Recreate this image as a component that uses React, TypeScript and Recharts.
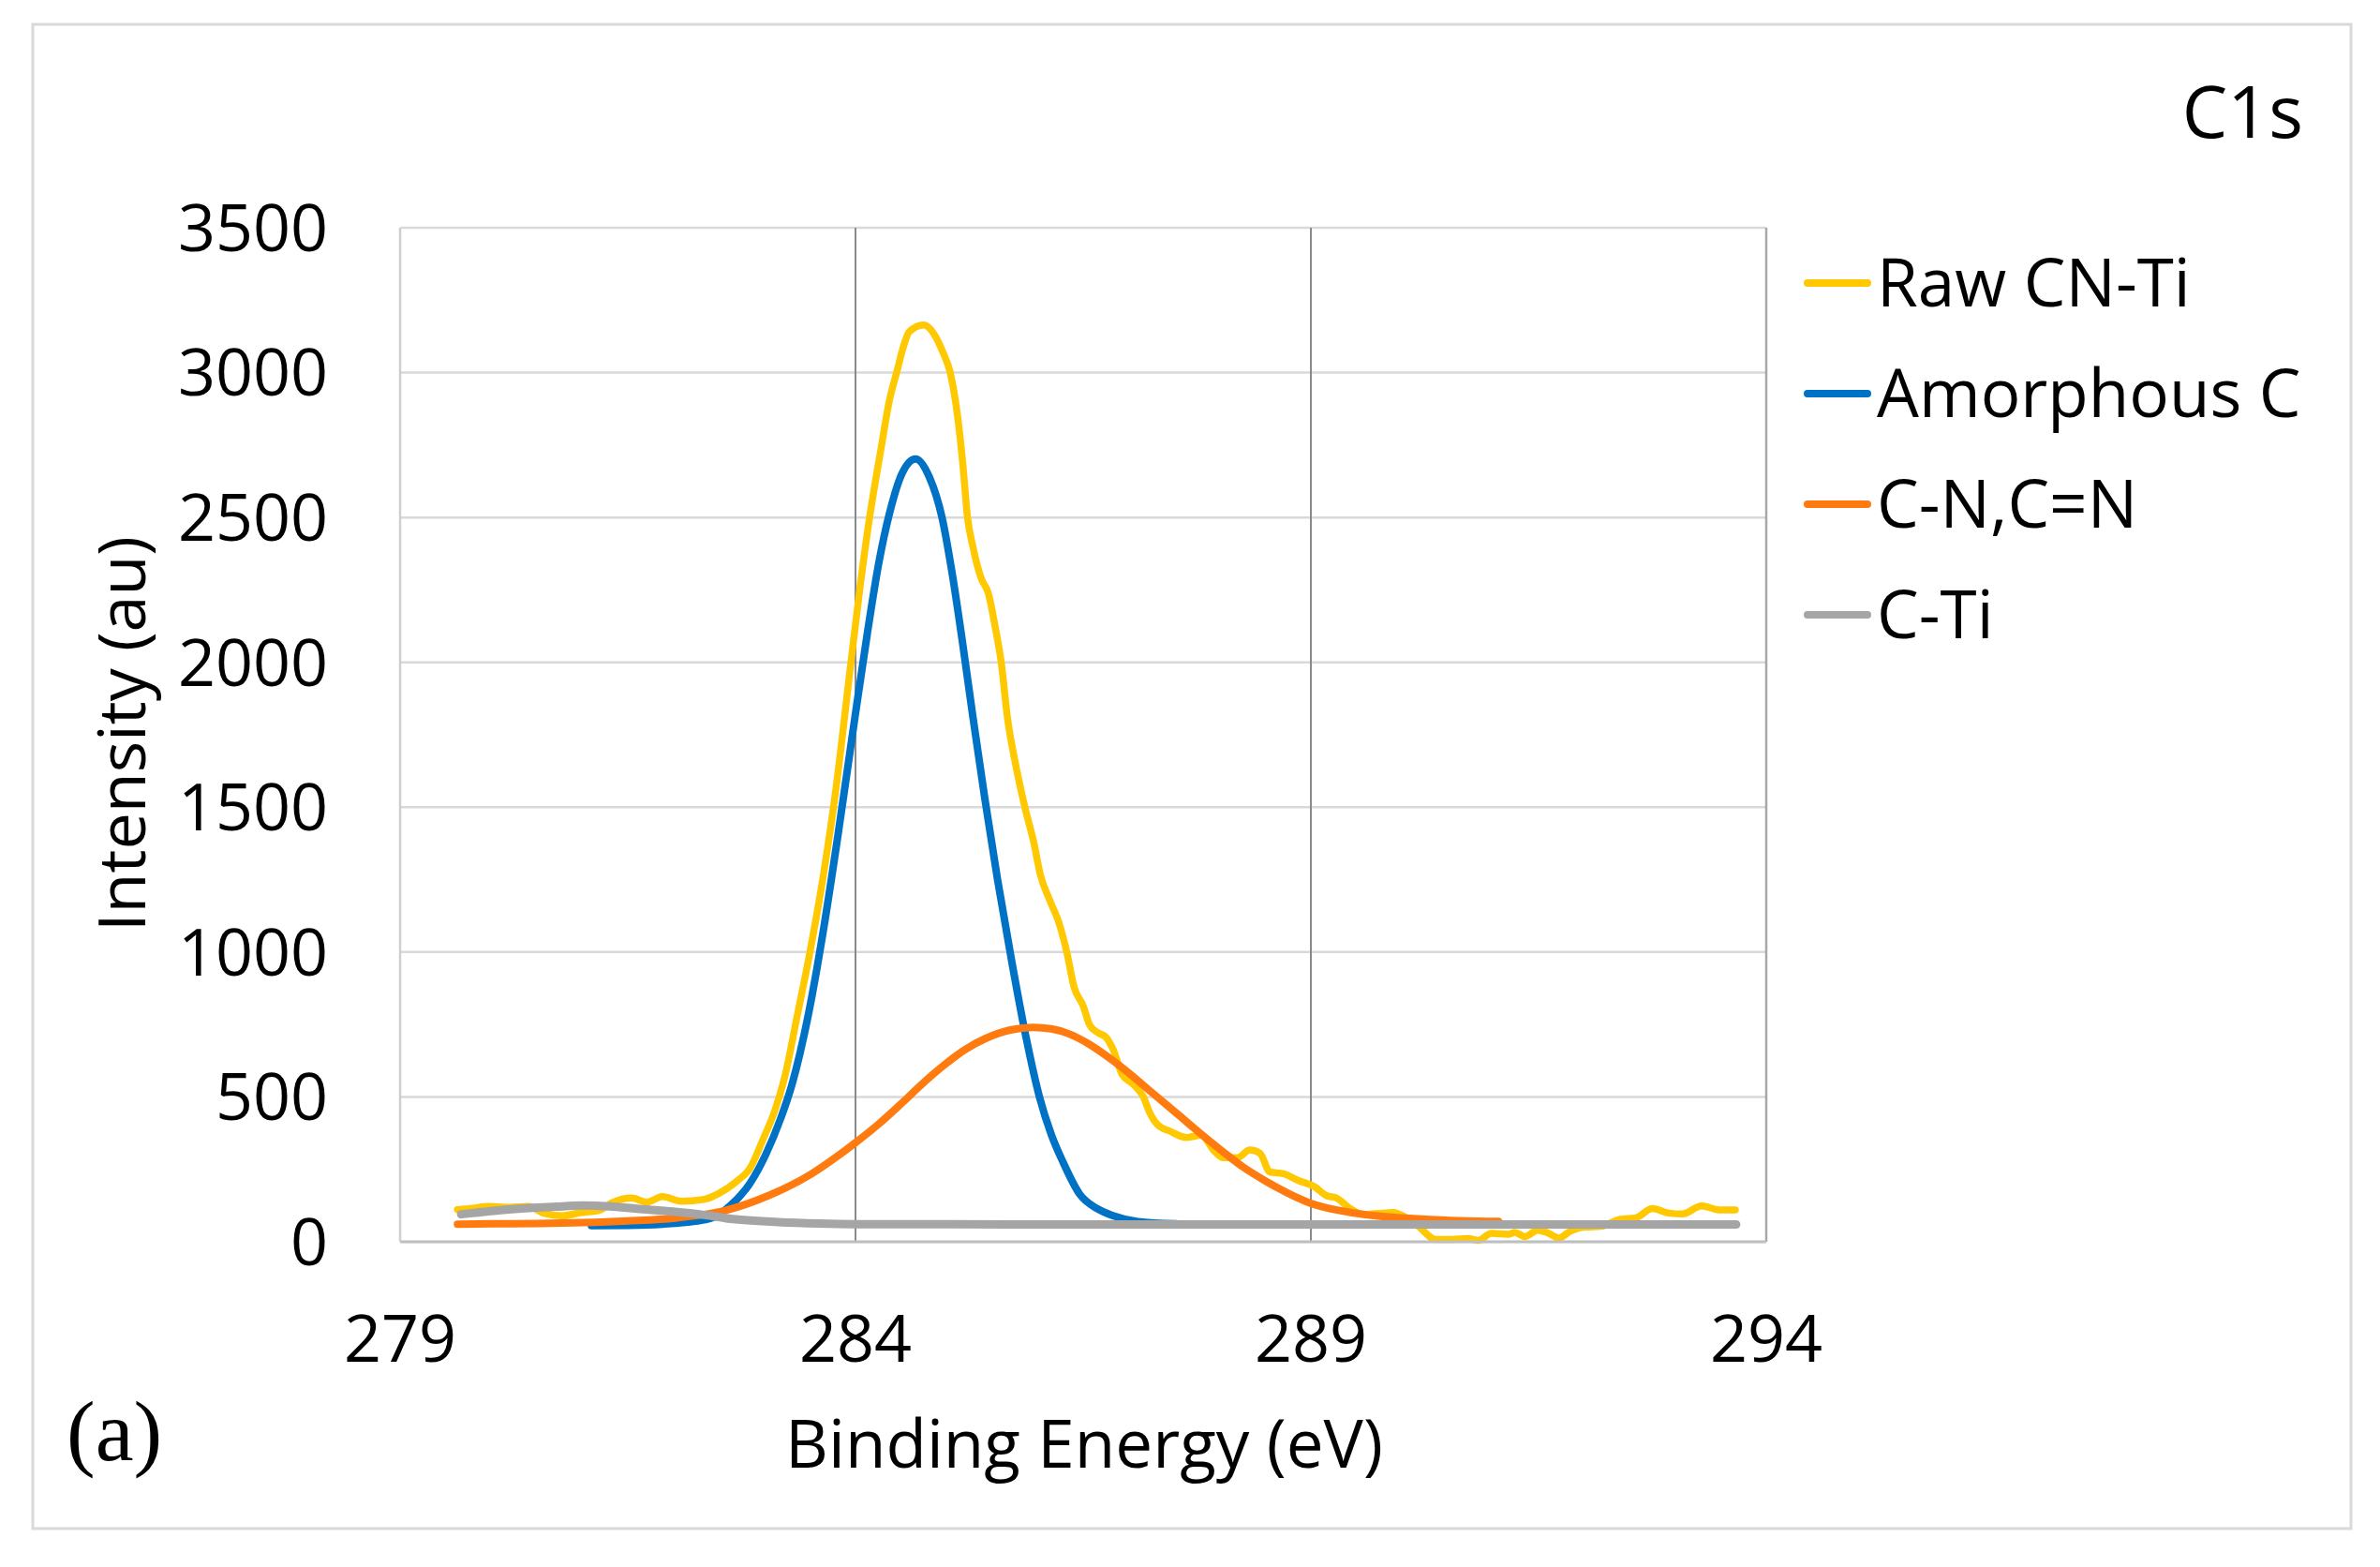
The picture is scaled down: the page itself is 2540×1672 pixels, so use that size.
import { LineChart, Line, XAxis, YAxis, CartesianGrid, ReferenceLine } from 'recharts'

// ── Data ───────────────────────────────────────────────────────────────────────

const X_TICKS = [279, 284, 289, 294]
const Y_TICKS = [0, 500, 1000, 1500, 2000, 2500, 3000, 3500]

// Raw CN-Ti (measured spectrum)
const rawX = [
  279.63, 279.8, 279.96, 280.2, 280.41, 280.58, 280.78, 280.99, 281.19, 281.33,
  281.54, 281.71, 281.88, 282.09, 282.33, 282.5, 282.7, 282.84, 282.98, 283.12,
  283.22, 283.36, 283.5, 283.65, 283.78, 283.95, 284.05, 284.15, 284.28, 284.37,
  284.46, 284.52, 284.59, 284.75, 284.87, 284.96, 285.04, 285.12, 285.18, 285.23,
  285.29, 285.38, 285.46, 285.53, 285.6, 285.67, 285.76, 285.86, 285.96, 286.03,
  286.13, 286.24, 286.32, 286.4, 286.5, 286.57, 286.66, 286.75, 286.83, 286.93,
  287.05, 287.16, 287.23, 287.32, 287.45, 287.63, 287.8, 287.93, 288.04, 288.19,
  288.33, 288.44, 288.55, 288.7, 288.86, 289.04, 289.18, 289.27, 289.43, 289.58,
  289.79, 289.9, 290.05, 290.19, 290.37, 290.55, 290.73, 290.84, 290.98, 291.17,
  291.24, 291.35, 291.49, 291.6, 291.72, 291.85, 292.0, 292.18, 292.39, 292.57,
  292.75, 292.93, 293.08, 293.29, 293.48, 293.66,
]
const rawY = [
  111, 116, 122, 119, 122, 98, 90, 101, 109, 135,
  151, 137, 156, 140, 146, 167, 210, 253, 350, 458,
  565, 780, 1000, 1270, 1550, 2000, 2260, 2490, 2737, 2900,
  3010, 3083, 3141, 3164, 3129, 3070, 3000, 2852, 2679, 2500,
  2398, 2290, 2237, 2129, 2000, 1806, 1645, 1500, 1375, 1267,
  1181, 1095, 1000, 879, 814, 749, 722, 706, 663, 576,
  544, 501, 446, 403, 382, 360, 368, 317, 290, 290,
  317, 306, 241, 235, 212, 190, 158, 153, 115, 94,
  99, 101, 83, 51, 8, 8, 11, 5, 29, 26,
  32, 18, 40, 31, 13, 37, 51, 53, 77, 83,
  115, 99, 96, 124, 110, 110,
]

// Amorphous C
const amorphX = [
  281.1, 281.5, 281.88, 282.22, 282.43, 282.63, 282.84, 283.01, 283.18, 283.3,
  283.48, 283.65, 283.82, 283.98, 284.13, 284.26, 284.37, 284.5, 284.66, 284.81,
  284.95, 285.06, 285.17, 285.29, 285.42, 285.56, 285.72, 285.87, 286.02, 286.15,
  286.28, 286.46, 286.65, 286.83, 287.1, 287.52,
]
const amorphY = [
  56, 57, 61, 70, 83, 126, 201, 298, 427, 540,
  780, 1080, 1430, 1780, 2100, 2350, 2510, 2644, 2702, 2640,
  2500, 2310, 2080, 1810, 1530, 1250, 960, 710, 500, 370,
  274, 165, 115, 90, 70, 62,
]

// C-N, C=N
const cnX = [
  279.63, 280.0, 280.5, 281.0, 281.5, 282.02, 282.57, 283.05, 283.52, 283.8,
  284.0, 284.25, 284.51, 284.75, 284.99, 285.2, 285.43, 285.7, 285.95, 286.15,
  286.35, 286.55, 286.79, 287.0, 287.27, 287.55, 287.82, 288.05, 288.26, 288.49,
  288.8, 289.0, 289.4, 289.76, 290.3, 291.06,
]
const cnY = [
  61, 62, 63, 66, 72, 82, 108, 160, 235, 295,
  342, 405, 479, 550, 614, 663, 702, 731, 740, 735,
  717, 685, 634, 583, 511, 437, 365, 307, 257, 212,
  160, 133, 103, 88, 77, 70,
]

// C-Ti
const ctiX = [
  279.67, 280.0, 280.3, 280.7, 281.0, 281.3, 281.6, 282.0, 282.29, 282.63,
  283.15, 283.6, 284.0, 286.0, 289.0, 293.67,
]
const ctiY = [
  95, 106, 114, 121, 125, 122, 114, 104, 95, 79,
  68, 63, 61, 60, 60, 60,
]

const SERIES = [
  { name: 'Raw CN-Ti',   color: '#FFC800', width: 7.5, xs: rawX,    ys: rawY },
  { name: 'Amorphous C', color: '#0072C6', width: 8,   xs: amorphX, ys: amorphY },
  { name: 'C-N,C=N',     color: '#FF7B0F', width: 8,   xs: cnX,     ys: cnY },
  { name: 'C-Ti',        color: '#A5A5A5', width: 9,   xs: ctiX,    ys: ctiY },
]

// ── Layout ─────────────────────────────────────────────────────────────────────

const W = 2540
const H = 1672
const FONT = '"Open Sans", "Noto Sans", sans-serif'

const toPoints = (xs: number[], ys: number[]) => xs.map((x, i) => ({ x, y: ys[i] }))

// ── Component ──────────────────────────────────────────────────────────────────

export default function App() {
  const tickStyle = { fill: '#000000', fontSize: 70, fontFamily: FONT }

  return (
    <div style={{ position: 'absolute', left: 0, top: 0, width: W, height: H, background: '#ffffff' }}>
      <LineChart
        width={W}
        height={H}
        margin={{ top: 243, right: 655, bottom: 247, left: 277 }}
      >
        <CartesianGrid vertical={false} stroke="#D9D9D9" strokeWidth={2.5} />

        <XAxis
          dataKey="x"
          type="number"
          domain={[279, 294]}
          ticks={X_TICKS}
          allowDataOverflow
          height={100}
          tick={tickStyle}
          tickLine={false}
          tickSize={6}
          tickMargin={72}
          axisLine={{ stroke: '#BFBFBF', strokeWidth: 3 }}
        />
        <YAxis
          dataKey="y"
          type="number"
          domain={[0, 3500]}
          ticks={Y_TICKS}
          width={150}
          tick={tickStyle}
          tickLine={false}
          tickSize={6}
          tickMargin={71}
          axisLine={{ stroke: '#CFCFCF', strokeWidth: 2.5 }}
        />

        <ReferenceLine x={284} stroke="#8A8A8A" strokeWidth={2} />
        <ReferenceLine x={289} stroke="#8A8A8A" strokeWidth={2} />
        <ReferenceLine x={294} stroke="#A8A8A8" strokeWidth={2.5} />

        {SERIES.map((s) => (
          <Line
            key={s.name}
            name={s.name}
            data={toPoints(s.xs, s.ys)}
            dataKey="y"
            type="monotone"
            stroke={s.color}
            strokeWidth={s.width}
            strokeLinecap="round"
            strokeLinejoin="round"
            dot={false}
            activeDot={false}
            isAnimationActive={false}
          />
        ))}
      </LineChart>

      {/* Frame, titles and legend */}
      <svg
        width={W}
        height={H}
        style={{ position: 'absolute', left: 0, top: 0, pointerEvents: 'none' }}
      >
        <rect x={35} y={26} width={2474} height={1605} fill="none" stroke="#D9D9D9" strokeWidth={3} />

        <text x={2458} y={147} textAnchor="end" fontSize={77} fontFamily={FONT} fill="#000">
          C1s
        </text>

        <text
          transform="translate(155,783) rotate(-90)"
          textAnchor="middle"
          fontSize={70}
          fontFamily={FONT}
          fill="#000"
        >
          Intensity (au)
        </text>

        <text x={1157} y={1566} textAnchor="middle" fontSize={71} fontFamily={FONT} fill="#000">
          Binding Energy (eV)
        </text>

        <text x={71} y={1558} fontSize={92} fontFamily='"Liberation Serif", "DejaVu Serif", serif' fill="#000">
          (a)
        </text>

        {SERIES.map((s, i) => {
          const cy = 302 + i * 118
          return (
            <g key={s.name}>
              <line x1={1929} x2={1993} y1={cy} y2={cy} stroke={s.color} strokeWidth={8} strokeLinecap="round" />
              <text x={2003} y={cy + 25} fontSize={71} fontFamily={FONT} fill="#000">
                {s.name}
              </text>
            </g>
          )
        })}
      </svg>
    </div>
  )
}
